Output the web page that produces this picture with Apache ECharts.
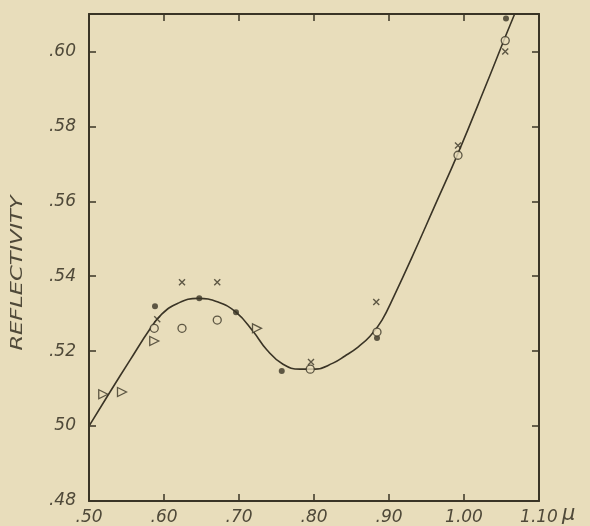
<!DOCTYPE html>
<html>
<head>
    <meta charset="utf-8">
    <title>Reflectivity</title>
    <script src="https://cdn.jsdelivr.net/npm/echarts@6/dist/echarts.min.js"></script>
    <style>
        html, body { margin: 0; padding: 0; background: #e8ddbb; }
    </style>
</head>
<body>
    <div id="main" style="width: 590px;height:526px;"></div>
    <script type="text/javascript">
        // wavelength (micron) and reflectivity
        var curveX = [0.50, 0.528, 0.5547, 0.5813, 0.597, 0.6187, 0.6453, 0.672, 0.696, 0.7187, 0.7373, 0.7587, 0.7813, 0.8013, 0.8253, 0.8413, 0.8587, 0.8747, 0.8907, 0.9067, 0.9307, 0.9613, 0.992, 1.0307, 1.0667, 1.072];
        var curveY = [0.5000, 0.5091, 0.5176, 0.5259, 0.5299, 0.5328, 0.5341, 0.5331, 0.5304, 0.5253, 0.5203, 0.5165, 0.5152, 0.5152, 0.5168, 0.5187, 0.5211, 0.5240, 0.5283, 0.5347, 0.5451, 0.5589, 0.5728, 0.5917, 0.6096, 0.6115];

        var dotX = [0.588, 0.647, 0.696, 0.757, 0.884, 1.056];
        var dotY = [0.532, 0.5341, 0.5304, 0.5147, 0.5235, 0.6088];

        var ringX = [0.587, 0.624, 0.671, 0.795, 0.884, 0.992, 1.055];
        var ringY = [0.5261, 0.5261, 0.5283, 0.5152, 0.5251, 0.5723, 0.6029];

        var crossX = [0.591, 0.624, 0.671, 0.796, 0.883, 0.992, 1.055];
        var crossY = [0.5285, 0.5384, 0.5384, 0.5171, 0.5331, 0.5749, 0.600];

        var triX = [0.519, 0.544, 0.587, 0.724];
        var triY = [0.5085, 0.5091, 0.5227, 0.5261];

        var xTicks = [0.5, 0.6, 0.7, 0.8, 0.9, 1.0, 1.1];
        var xTickLabels = ['.50', '.60', '.70', '.80', '.90', '1.00', '1.10'];
        var yTicks = [0.48, 0.50, 0.52, 0.54, 0.56, 0.58, 0.60];
        var yTickLabels = ['.48', '50', '.52', '.54', '.56', '.58', '.60'];

        var ink = '#3a3426';
        var textInk = '#4f4939';
        var paper = '#e8ddbb';
        var font = 'DejaVu Sans';

        function pairs(xs, ys) {
            return xs.map(function (x, i) { return [x, ys[i]]; });
        }
        function nearest(list, labels, v) {
            for (var i = 0; i < list.length; i++) {
                if (Math.abs(list[i] - v) < 1e-6) return labels[i];
            }
            return '';
        }

        var myChart = echarts.init(document.getElementById('main'));

        var tickStyle = { show: true, inside: true, length: 7, lineStyle: { color: ink, width: 1.5 } };
        var lineStyle = { show: true, onZero: false, lineStyle: { color: ink, width: 2 } };

        var option = {
            backgroundColor: paper,
            animation: false,
            grid: { left: 89, right: 51, top: 14, bottom: 25, outerBoundsMode: 'none' },
            xAxis: [{
                type: 'value', min: 0.5, max: 1.1, interval: 0.1, position: 'bottom',
                axisLine: lineStyle, axisTick: tickStyle, splitLine: { show: false },
                axisLabel: {
                    margin: 8, color: textInk, fontFamily: font, fontStyle: 'italic', fontSize: 17,
                    formatter: function (v) { return nearest(xTicks, xTickLabels, v); }
                }
            }, {
                type: 'value', min: 0.5, max: 1.1, interval: 0.1, position: 'top',
                axisLine: lineStyle, axisTick: tickStyle, splitLine: { show: false },
                axisLabel: { show: false }
            }],
            yAxis: [{
                type: 'value', min: 0.48, max: 0.61, interval: 0.02, position: 'left',
                axisLine: lineStyle, axisTick: tickStyle, splitLine: { show: false },
                axisLabel: {
                    margin: 13, color: textInk, fontFamily: font, fontStyle: 'italic', fontSize: 17,
                    formatter: function (v) { return nearest(yTicks, yTickLabels, v); }
                }
            }, {
                type: 'value', min: 0.48, max: 0.61, interval: 0.02, position: 'right',
                axisLine: lineStyle, axisTick: tickStyle, splitLine: { show: false },
                axisLabel: { show: false }
            }],
            graphic: [{
                type: 'text', x: 18, y: 273, rotation: Math.PI / 2, scaleX: 1.5,
                style: {
                    text: 'REFLECTIVITY', fill: textInk, align: 'center', verticalAlign: 'middle',
                    font: 'italic 15px "DejaVu Sans"'
                }
            }, {
                type: 'text', x: 562, y: 504,
                style: { text: 'μ', fill: textInk, font: 'italic 21px "DejaVu Sans"' }
            }],
            series: [{
                name: 'curve', type: 'line', data: pairs(curveX, curveY), smooth: 0.45,
                showSymbol: false, clip: true,
                lineStyle: { color: ink, width: 1.6 }, z: 2
            }, {
                name: 'dots', type: 'scatter', data: pairs(dotX, dotY),
                symbol: 'circle', symbolSize: 6, itemStyle: { color: ink }, z: 3
            }, {
                name: 'rings', type: 'scatter', data: pairs(ringX, ringY),
                symbol: 'circle', symbolSize: 8,
                itemStyle: { color: paper, borderColor: ink, borderWidth: 1.3 }, z: 4
            }, {
                name: 'crosses', type: 'scatter', data: pairs(crossX, crossY),
                symbol: 'path://M0,0L10,10M10,0L0,10', symbolSize: 6,
                itemStyle: { color: 'none', borderColor: ink, borderWidth: 1.4 }, z: 4
            }, {
                name: 'triangles', type: 'scatter', data: pairs(triX, triY),
                symbol: 'path://M0,0L10,5L0,10Z', symbolSize: [9, 9],
                itemStyle: { color: paper, borderColor: ink, borderWidth: 1.3 }, z: 4
            }]
        };

        myChart.setOption(option);
    </script>
</body>
</html>
